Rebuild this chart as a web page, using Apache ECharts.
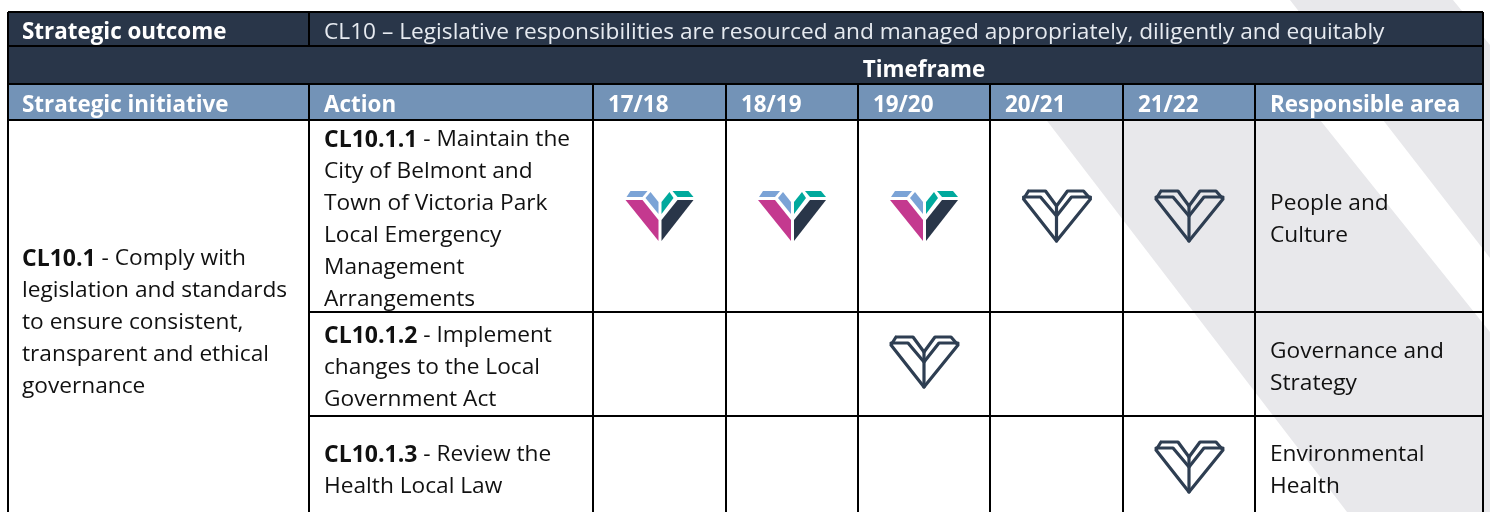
<!DOCTYPE html>
<html>
<head>
<meta charset="utf-8">
<style>
html, body { margin: 0; padding: 0; background: #fff; }
#main { width: 1490px; height: 512px; }
</style>
<script src="https://cdn.jsdelivr.net/npm/echarts@6/dist/echarts.min.js"></script>
</head>
<body>
<div id="main"></div>
<script>
// table content
var years = ['17/18', '18/19', '19/20', '20/21', '21/22'];
var outcomeLabel = 'Strategic outcome';
var outcomeText = 'CL10 – Legislative responsibilities are resourced and managed appropriately, diligently and equitably';
var timeframeLabel = 'Timeframe';
var initiativeHead = 'Strategic initiative';
var actionHead = 'Action';
var areaHead = 'Responsible area';
var initiativeLines = ['{b|CL10.1} - Comply with', 'legislation and standards', 'to ensure consistent,', 'transparent and ethical', 'governance'];
var actionLines = [
    ['{b|CL10.1.1} - Maintain the', 'City of Belmont and', 'Town of Victoria Park', 'Local Emergency', 'Management', 'Arrangements'],
    ['{b|CL10.1.2} - Implement', 'changes to the Local', 'Government Act'],
    ['{b|CL10.1.3} - Review the', 'Health Local Law']
];
var areaLines = [
    ['People and', 'Culture'],
    ['Governance and', 'Strategy'],
    ['Environmental', 'Health']
];
// [year index, action index]
var currentMarks = [[0, 0], [1, 0], [2, 0]];
var plannedMarks = [[3, 0], [4, 0], [2, 1], [4, 2]];

// layout, in page pixels
var colX = [8, 309, 593, 726, 858, 990, 1123, 1255, 1483];
var rowY = [12, 46, 84, 120, 312, 416, 530];
var markY = [216, 362, 467];
var actionFirstLine = [140, 336, 455];
var areaFirstLine = [204, 352, 455];
var lineGap = 32;
var navy = '#293649';
var blue = '#7393b7';
var fontName = '"Open Sans", "Noto Sans", sans-serif';
var fontSize = 22.7;
var headSize = 22.4;

var bandPolys = [
    [[1290, 0], [1453, 0], [1490, 45], [1490, 258]],
    [[1031, 100], [1304, 100], [1490, 332], [1490, 512], [1347, 512]]
];
var fills = [
    [colX[0], rowY[0], colX[8], rowY[2], navy],
    [colX[0], rowY[2], colX[8], rowY[3], blue]
];
var rules = [
    [colX[0], rowY[0], colX[8], rowY[0]],
    [colX[0], rowY[1], colX[8], rowY[1]],
    [colX[0], rowY[2], colX[8], rowY[2]],
    [colX[0], rowY[3], colX[8], rowY[3]],
    [colX[1], rowY[4], colX[8], rowY[4]],
    [colX[1], rowY[5], colX[8], rowY[5]],
    [colX[0], rowY[0], colX[0], rowY[6]],
    [colX[8], rowY[0], colX[8], rowY[6]],
    [colX[1], rowY[0], colX[1], rowY[1]],
    [colX[1], rowY[2], colX[1], rowY[6]]
];
for (var c = 2; c < 8; c++) {
    rules.push([colX[c], rowY[2], colX[c], rowY[6]]);
}

// text rows: x, y, text, colour
var textRows = [];
function addText(x, y, str, kind) {
    textRows.push([x, y, str, kind]);
}
addText(22, 33, '{h|' + outcomeLabel + '}', 'head');
addText(324, 33, outcomeText, 'light');
addText(924, 71, '{h|' + timeframeLabel + '}', 'headMid');
addText(22, 106, '{h|' + initiativeHead + '}', 'head');
addText(324, 106, '{h|' + actionHead + '}', 'head');
for (var y = 0; y < years.length; y++) {
    addText(colX[y + 2] + 15, 106, '{h|' + years[y] + '}', 'head');
}
addText(1270, 106, '{h|' + areaHead + '}', 'head');
initiativeLines.forEach(function (t, i) {
    addText(22, 259 + i * lineGap, t, 'body');
});
actionLines.forEach(function (lines, r) {
    lines.forEach(function (t, i) {
        addText(324, actionFirstLine[r] + i * lineGap, t, 'body');
    });
});
areaLines.forEach(function (lines, r) {
    lines.forEach(function (t, i) {
        addText(1270, areaFirstLine[r] + i * lineGap, t, 'body');
    });
});

// mark outlines, offsets from the mark centre
var filledFacets = [
    ['#7ba3d6', [[-29, -25], [-12, -25], [-17, -19], [-33, -19]]],
    ['#7ba3d6', [[-9, -24], [-1, -14], [-1, -2], [-14, -18]]],
    ['#00a99d', [[10, -24], [14, -18], [2, -2], [2, -14]]],
    ['#00a99d', [[13, -25], [29, -25], [34, -19], [18, -19]]],
    ['#c4398f', [[-34, -16], [-17, -16], [-1, 4], [-1, 25]]],
    [navy, [[34, -16], [18, -16], [2, 4], [2, 25]]]
];
var plannedStrokes = [
    [[-28, -25], [-11, -25], [0, -10], [11, -25], [27, -25], [34, -17], [0, 25], [-33, -17], [-28, -25]],
    [[-33, -19], [-16, -19], [0, 0], [15, -19], [34, -19]],
    [[0, -10], [0, 25]]
];

function renderMark(kind) {
    return function (params, api) {
        var col = api.value(0), row = api.value(1);
        var cx = (colX[col + 2] + colX[col + 3]) / 2;
        var c = api.coord([cx, markY[row]]);
        var kids;
        if (kind === 'filled') {
            kids = filledFacets.map(function (f) {
                return {
                    type: 'polygon',
                    shape: { points: f[1].map(function (p) { return [c[0] + p[0], c[1] + p[1]]; }) },
                    style: { fill: f[0] }
                };
            });
        } else {
            kids = plannedStrokes.map(function (s) {
                return {
                    type: 'polyline',
                    shape: { points: s.map(function (p) { return [c[0] + p[0], c[1] + p[1]]; }) },
                    style: { fill: 'none', stroke: '#2e3e52', lineWidth: 3.2, lineJoin: 'round', lineCap: 'round' }
                };
            });
        }
        return { type: 'group', children: kids };
    };
}

var myChart = echarts.init(document.getElementById('main'));

myChart.setOption({
    animation: false,
    grid: { left: 0, right: 0, top: 0, bottom: 0 },
    xAxis: { type: 'value', min: 0, max: 1490, show: false },
    yAxis: { type: 'value', min: 0, max: 512, inverse: true, show: false },
    series: [
        {
            name: 'band',
            type: 'custom',
            silent: true,
            z: 1,
            data: bandPolys.map(function (p, i) { return [i]; }),
            renderItem: function (params, api) {
                var pts = bandPolys[api.value(0)].map(function (p) { return api.coord(p); });
                return { type: 'polygon', shape: { points: pts }, style: { fill: '#e8e8eb' } };
            }
        },
        {
            name: 'fills',
            type: 'custom',
            silent: true,
            z: 2,
            data: fills.map(function (f, i) { return [i]; }),
            renderItem: function (params, api) {
                var f = fills[api.value(0)];
                var a = api.coord([f[0], f[1]]), b = api.coord([f[2], f[3]]);
                return { type: 'rect', shape: { x: a[0], y: a[1], width: b[0] - a[0], height: b[1] - a[1] }, style: { fill: f[4] } };
            }
        },
        {
            name: 'rules',
            type: 'custom',
            silent: true,
            z: 3,
            data: rules.map(function (r, i) { return [i]; }),
            renderItem: function (params, api) {
                var r = rules[api.value(0)];
                var a = api.coord([r[0], r[1]]), b = api.coord([r[2], r[3]]);
                return { type: 'line', shape: { x1: a[0], y1: a[1], x2: b[0], y2: b[1] }, style: { stroke: '#000', lineWidth: 2 } };
            }
        },
        { name: 'current', type: 'custom', silent: true, z: 4, data: currentMarks, renderItem: renderMark('filled') },
        { name: 'planned', type: 'custom', silent: true, z: 4, data: plannedMarks, renderItem: renderMark('planned') },
        {
            name: 'text',
            type: 'custom',
            silent: true,
            z: 5,
            data: textRows.map(function (t, i) { return [i]; }),
            renderItem: function (params, api) {
                var t = textRows[api.value(0)];
                var p = api.coord([t[0], t[1]]);
                var kind = t[3];
                var col = kind === 'body' ? '#111' : (kind === 'light' ? '#e6eaf0' : '#fff');
                return {
                    type: 'text',
                    style: {
                        x: p[0],
                        y: p[1],
                        text: t[2],
                        fill: col,
                        font: fontSize + 'px ' + fontName,
                        align: kind === 'headMid' ? 'center' : 'left',
                        verticalAlign: 'middle',
                        rich: {
                            b: { fontFamily: fontName, fontSize: 23, fontWeight: 'bold', fill: col },
                            h: { fontFamily: fontName, fontSize: headSize, fontWeight: 'bold', fill: col }
                        }
                    }
                };
            }
        }
    ]
});
</script>
</body>
</html>
